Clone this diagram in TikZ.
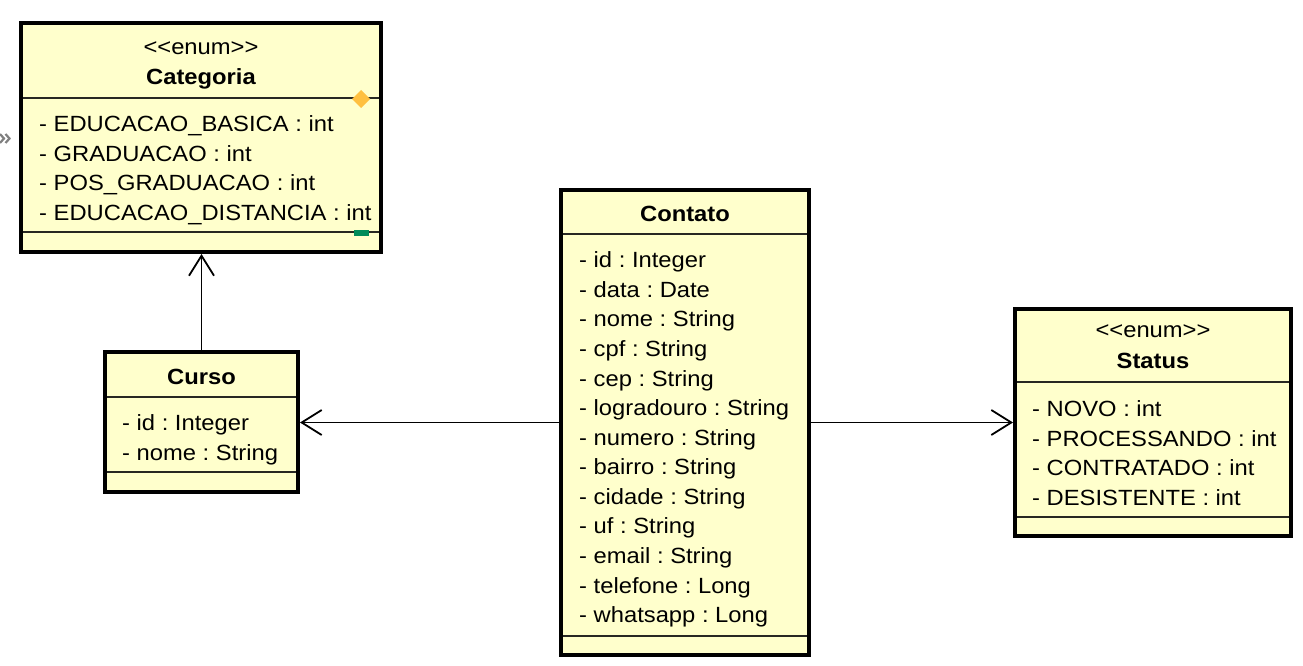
\documentclass[tikz,border=0pt]{standalone}
\usepackage{fontspec}
\setmainfont{Liberation Sans}[FakeStretch=1.08]
\usetikzlibrary{arrows.meta}
\definecolor{umlfill}{RGB}{255,255,204}
\definecolor{umlsep}{RGB}{40,40,35}
\definecolor{diamondc}{RGB}{255,192,64}
\definecolor{markg}{RGB}{0,140,90}
\frenchspacing
\begin{document}
\begin{tikzpicture}[x=1pt,y=-1pt,
  classbox/.style={draw=black, line width=4pt, fill=umlfill, inner sep=0pt},
  sepline/.style={draw=umlsep, line width=2pt},
  attr/.style={anchor=base west, inner sep=0pt, font=\fontsize{22}{26}\selectfont},
  ctitle/.style={anchor=base, inner sep=0pt, font=\fontsize{22}{26}\selectfont\bfseries},
  stereo/.style={anchor=base, inner sep=0pt, font=\fontsize{22}{26}\selectfont},
  assoc/.style={draw=black, line width=1.6pt, -{Straight Barb[length=20pt, width=25pt, line width=1.8pt]}}]
\useasboundingbox[fill=white] (0,0) rectangle (1303,666);

% boxes
\node[classbox, minimum width=360pt, minimum height=228.5pt] (cat) at (201,137.75) {};
\node[classbox, minimum width=193pt, minimum height=140pt] (curso) at (201.5,422) {};
\node[classbox, minimum width=248pt, minimum height=465pt] (contato) at (685,422.5) {};
\node[classbox, minimum width=276pt, minimum height=226.5pt] (status) at (1153,422.25) {};

% separators
\draw[sepline] (23,98.3) -- (379,98.3);
\draw[sepline] (23,232) -- (379,232);
\draw[sepline] (107,397) -- (296,397);
\draw[sepline] (107,472) -- (296,472);
\draw[sepline] (563,233.5) -- (807,233.5);
\draw[sepline] (563,636) -- (807,636);
\draw[sepline] (1017,382) -- (1289,382);
\draw[sepline] (1017,517) -- (1289,517);

% markers
\fill[diamondc] (361,90) -- (370,99) -- (361,108) -- (352,99) -- cycle;
\fill[markg] (354,229.5) rectangle (369,235.5);
\draw[gray, line width=2.2pt] (0,134) -- (4,138.5) -- (0,143) (5.5,134) -- (9.5,138.5) -- (5.5,143);

% Categoria
\node[stereo] (catst) at (201,55) {<{}<enum>{}>};
\node[ctitle] (catname) at (201,85) {Categoria};
\node[attr] (ca1) at (39,131.7) {- EDUCACAO\_BASICA : int};
\node[attr] (ca2) at (39,161.3) {- GRADUACAO : int};
\node[attr] (ca3) at (39,190.9) {- POS\_GRADUACAO : int};
\node[attr] (ca4) at (39,220.5) {- EDUCACAO\_DISTANCIA : int};

% Curso
\node[ctitle] (cuname) at (201.5,384) {Curso};
\node[attr] (cu1) at (122,430.7) {- id : Integer};
\node[attr] (cu2) at (122,460.3) {- nome : String};

% Contato
\node[ctitle] (coname) at (685,221.7) {Contato};
\foreach \t [count=\i from 0] in {- id : Integer, - data : Date, - nome : String, - cpf : String, - cep : String, - logradouro : String, - numero : String, - bairro : String, - cidade : String, - uf : String, - email : String, - telefone : Long, - whatsapp : Long}{
  \node[attr] (co\i) at (579,267.7+\i*29.58) {\t};
}

% Status
\node[stereo] (stst) at (1153,337) {<{}<enum>{}>};
\node[ctitle] (stname) at (1153,368.3) {Status};
\node[attr] (st1) at (1032,416.7) {- NOVO : int};
\node[attr] (st2) at (1032,446.3) {- PROCESSANDO : int};
\node[attr] (st3) at (1032,475.9) {- CONTRATADO : int};
\node[attr] (st4) at (1032,505.5) {- DESISTENTE : int};

% connectors
\draw[assoc] (curso.north) -- (curso.north |- cat.south);
\draw[assoc] (contato.west) -- (curso.east |- contato.west);
\draw[assoc] (contato.east) -- (status.west |- contato.east);
\end{tikzpicture}
\end{document}
